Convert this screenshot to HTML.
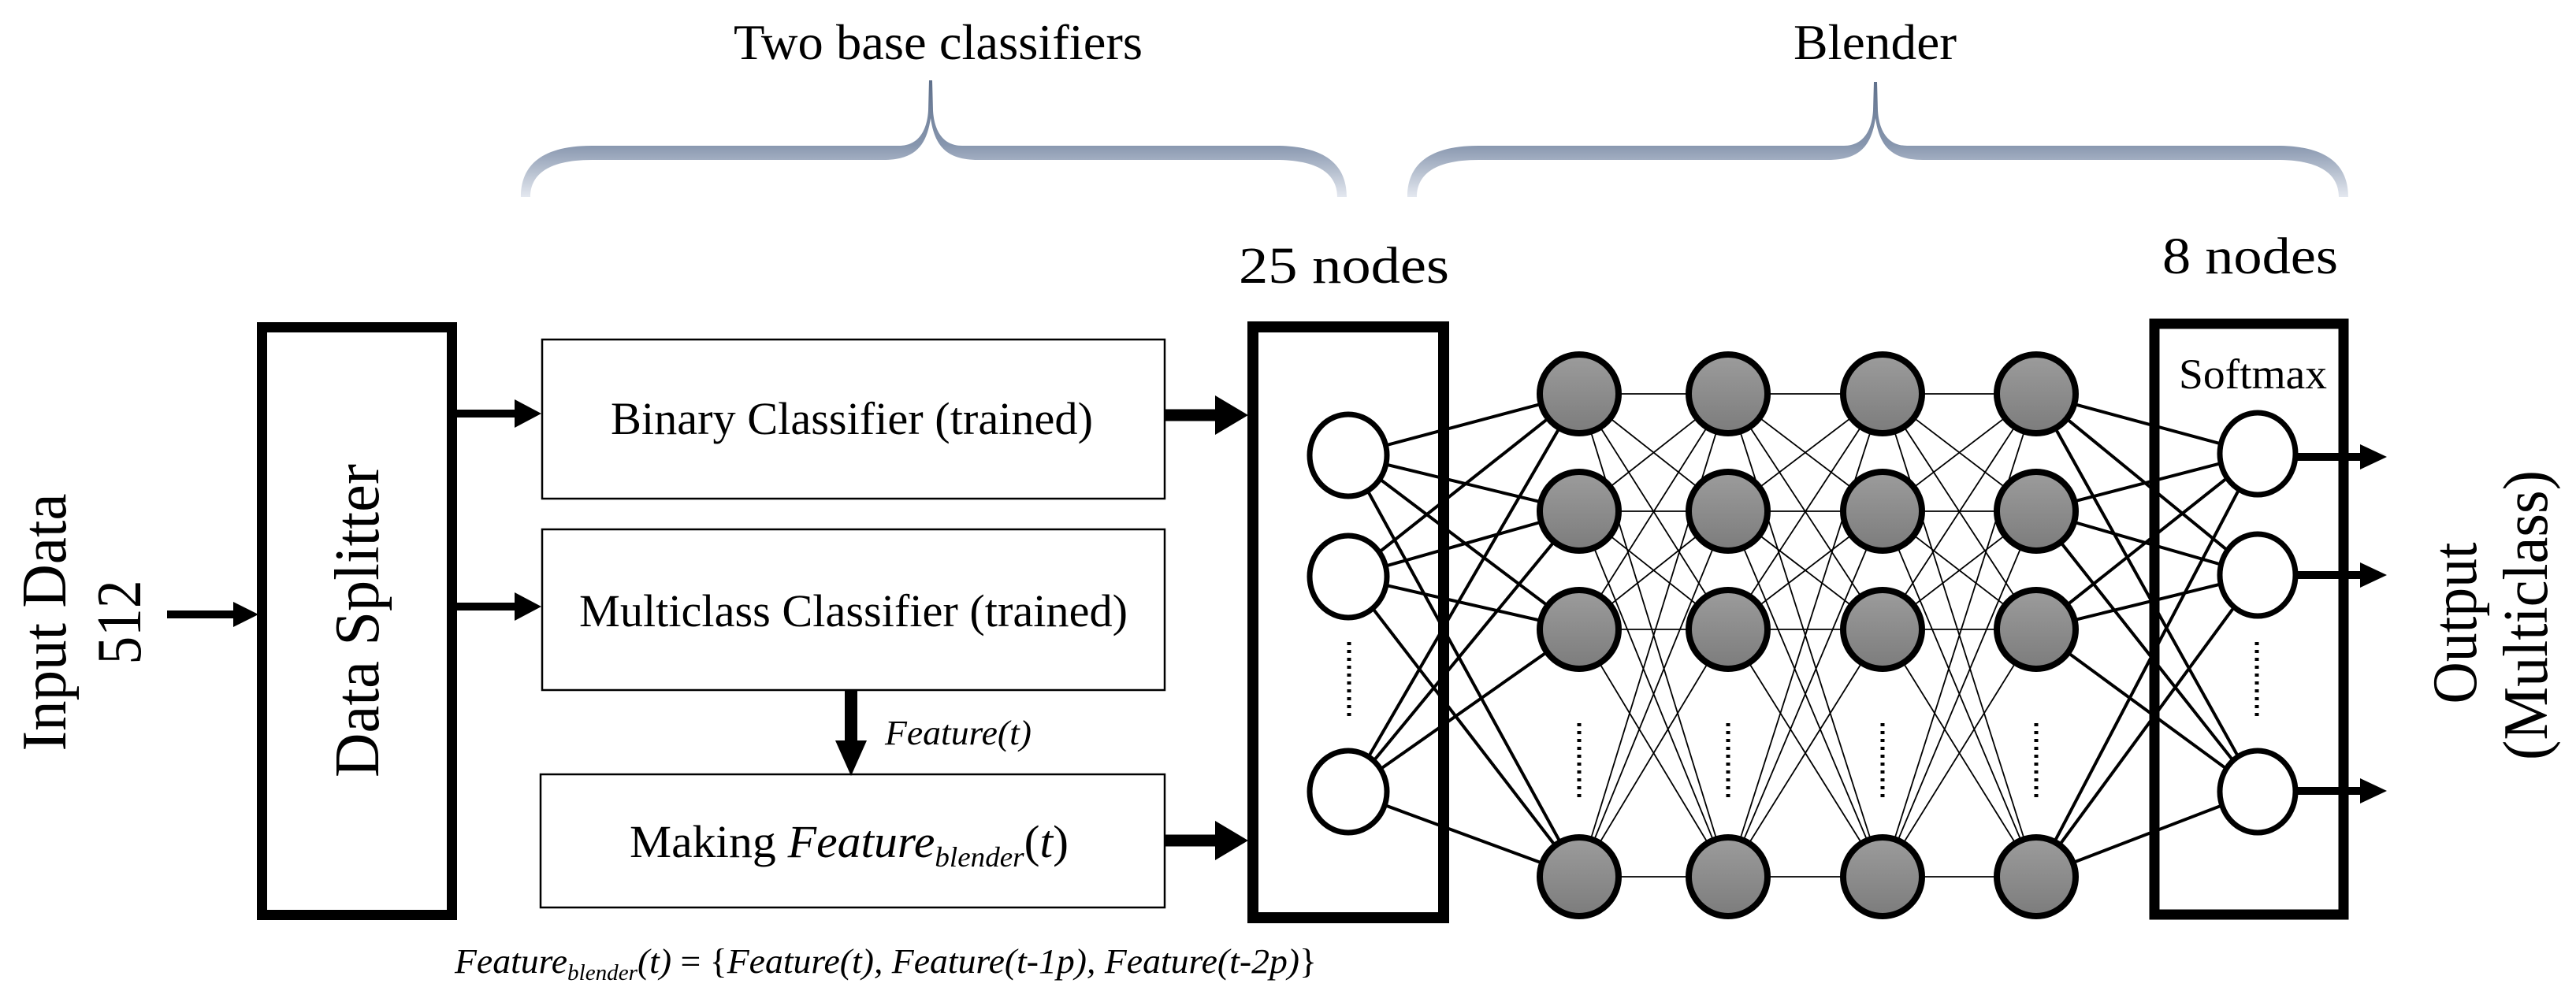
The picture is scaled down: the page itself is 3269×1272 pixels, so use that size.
<!DOCTYPE html>
<html><head><meta charset="utf-8"><style>
html,body{margin:0;padding:0;background:#fff;}
svg{display:block;}
svg text{font-family:"Liberation Serif","Times New Roman","DejaVu Serif",serif;fill:#000;}
</style></head><body>
<svg width="3269" height="1272" viewBox="0 0 3269 1272" xmlns="http://www.w3.org/2000/svg" font-family="'Liberation Serif','Times New Roman','DejaVu Serif',serif">
<defs>
<linearGradient id="br" x1="0" y1="100" x2="0" y2="252" gradientUnits="userSpaceOnUse">
<stop offset="0" stop-color="#5e6f8a"/><stop offset="0.55" stop-color="#8796ae"/><stop offset="1" stop-color="#e6eaf1"/></linearGradient>
<linearGradient id="gn" x1="0" y1="0" x2="0" y2="1">
<stop offset="0" stop-color="#9c9c9c"/><stop offset="1" stop-color="#7c7c7c"/></linearGradient>
</defs>

<!-- braces -->
<path fill="url(#br)" d="M661,250 C661,215 681,185 751,185 H1141 C1169,185 1177,160 1178,140 L1179,102 L1183,102 L1184,140 C1185,160 1193,185 1221,185 H1619 C1689,185 1709,215 1709,250 L1697,250 C1697,225 1679,203 1619,203 H1241 C1201,203 1186,185 1181,150 C1176,185 1161,203 1121,203 H751 C691,203 673,225 673,250 Z"/>
<path fill="url(#br)" d="M1786,250 C1786,215 1806,185 1876,185 H2340 C2368,185 2376,160 2377,140 L2378,104 L2382,104 L2383,140 C2384,160 2392,185 2420,185 H2890 C2960,185 2980,215 2980,250 L2968,250 C2968,225 2950,203 2890,203 H2440 C2400,203 2385,185 2380,150 C2375,185 2360,203 2320,203 H1876 C1816,203 1798,225 1798,250 Z"/>

<text x="931" y="75" font-size="64" textLength="519" lengthAdjust="spacingAndGlyphs">Two base classifiers</text>
<text x="2276" y="75" font-size="64" textLength="207" lengthAdjust="spacingAndGlyphs">Blender</text>
<text x="1572" y="359" font-size="66" textLength="267" lengthAdjust="spacingAndGlyphs">25 nodes</text>
<text x="2744" y="347" font-size="66" textLength="223" lengthAdjust="spacingAndGlyphs">8 nodes</text>

<!-- left rotated labels -->
<text transform="translate(83,790) rotate(-90)" text-anchor="middle" font-size="80" textLength="327" lengthAdjust="spacingAndGlyphs">Input Data</text>
<text transform="translate(178,790) rotate(-90)" text-anchor="middle" font-size="80" textLength="107" lengthAdjust="spacingAndGlyphs">512</text>
<text transform="translate(480,788) rotate(-90)" text-anchor="middle" font-size="80" textLength="398" lengthAdjust="spacingAndGlyphs">Data Splitter</text>

<!-- input arrow -->
<line x1="212" y1="780" x2="300" y2="780" stroke="#000" stroke-width="10"/>
<polygon points="296,764 328,780 296,796" fill="#000"/>

<!-- data splitter -->
<rect x="332.5" y="415.5" width="241" height="746" fill="none" stroke="#000" stroke-width="13"/>

<!-- splitter arrows -->
<line x1="580" y1="525" x2="656" y2="525" stroke="#000" stroke-width="10"/>
<polygon points="653,507 687,525 653,543" fill="#000"/>
<line x1="580" y1="770" x2="656" y2="770" stroke="#000" stroke-width="10"/>
<polygon points="653,752 687,770 653,788" fill="#000"/>

<!-- classifier boxes -->
<rect x="688" y="431" width="790" height="202" fill="none" stroke="#000" stroke-width="2.5"/>
<rect x="688" y="672" width="790" height="204" fill="none" stroke="#000" stroke-width="2.5"/>
<rect x="686" y="983" width="792" height="169" fill="none" stroke="#000" stroke-width="2.5"/>
<text x="775" y="551" font-size="58" textLength="612" lengthAdjust="spacingAndGlyphs">Binary Classifier (trained)</text>
<text x="735" y="795" font-size="58" textLength="696" lengthAdjust="spacingAndGlyphs">Multiclass Classifier (trained)</text>
<text x="799" y="1088" font-size="58" textLength="557" lengthAdjust="spacingAndGlyphs">Making <tspan font-style="italic">Feature</tspan><tspan font-style="italic" font-size="36" dy="12">blender</tspan><tspan dy="-12">(</tspan><tspan font-style="italic">t</tspan>)</text>

<!-- feature arrow -->
<line x1="1080" y1="876" x2="1080" y2="945" stroke="#000" stroke-width="16"/>
<polygon points="1060,940 1100,940 1080,985" fill="#000"/>
<text x="1123" y="945" font-size="44" font-style="italic" textLength="186" lengthAdjust="spacingAndGlyphs">Feature(t)</text>

<!-- formula -->
<text x="577" y="1235" font-size="44" font-style="italic" textLength="1094" lengthAdjust="spacingAndGlyphs">Feature<tspan font-size="28" dy="9">blender</tspan><tspan dy="-9">(t) </tspan><tspan font-style="normal">= {</tspan>Feature(t), Feature(t-1p), Feature(t-2p)<tspan font-style="normal">}</tspan></text>

<!-- thick arrows into 25 box -->
<line x1="1478" y1="527" x2="1545" y2="527" stroke="#000" stroke-width="15"/>
<polygon points="1542,502 1584,527 1542,552" fill="#000"/>
<line x1="1478" y1="1067" x2="1545" y2="1067" stroke="#000" stroke-width="15"/>
<polygon points="1542,1042 1584,1067 1542,1092" fill="#000"/>

<!-- connections -->
<g stroke="#000" stroke-width="4">
<line x1="1711" y1="578" x2="2004" y2="500"/><line x1="1711" y1="578" x2="2004" y2="649"/><line x1="1711" y1="578" x2="2004" y2="799"/><line x1="1711" y1="578" x2="2004" y2="1113"/>
<line x1="1711" y1="732" x2="2004" y2="500"/><line x1="1711" y1="732" x2="2004" y2="649"/><line x1="1711" y1="732" x2="2004" y2="799"/><line x1="1711" y1="732" x2="2004" y2="1113"/>
<line x1="1711" y1="1005" x2="2004" y2="500"/><line x1="1711" y1="1005" x2="2004" y2="649"/><line x1="1711" y1="1005" x2="2004" y2="799"/><line x1="1711" y1="1005" x2="2004" y2="1113"/>
<line x1="2584" y1="500" x2="2865" y2="576"/><line x1="2584" y1="500" x2="2865" y2="730"/><line x1="2584" y1="500" x2="2865" y2="1005"/>
<line x1="2584" y1="649" x2="2865" y2="576"/><line x1="2584" y1="649" x2="2865" y2="730"/><line x1="2584" y1="649" x2="2865" y2="1005"/>
<line x1="2584" y1="799" x2="2865" y2="576"/><line x1="2584" y1="799" x2="2865" y2="730"/><line x1="2584" y1="799" x2="2865" y2="1005"/>
<line x1="2584" y1="1113" x2="2865" y2="576"/><line x1="2584" y1="1113" x2="2865" y2="730"/><line x1="2584" y1="1113" x2="2865" y2="1005"/>
</g>
<g stroke="#000" stroke-width="1.8">
<path d="M2004,500 L2193,500 M2004,500 L2193,649 M2004,500 L2193,799 M2004,500 L2193,1113
M2004,649 L2193,500 M2004,649 L2193,649 M2004,649 L2193,799 M2004,649 L2193,1113
M2004,799 L2193,500 M2004,799 L2193,649 M2004,799 L2193,799 M2004,799 L2193,1113
M2004,1113 L2193,500 M2004,1113 L2193,649 M2004,1113 L2193,799 M2004,1113 L2193,1113
M2193,500 L2389,500 M2193,500 L2389,649 M2193,500 L2389,799 M2193,500 L2389,1113
M2193,649 L2389,500 M2193,649 L2389,649 M2193,649 L2389,799 M2193,649 L2389,1113
M2193,799 L2389,500 M2193,799 L2389,649 M2193,799 L2389,799 M2193,799 L2389,1113
M2193,1113 L2389,500 M2193,1113 L2389,649 M2193,1113 L2389,799 M2193,1113 L2389,1113
M2389,500 L2584,500 M2389,500 L2584,649 M2389,500 L2584,799 M2389,500 L2584,1113
M2389,649 L2584,500 M2389,649 L2584,649 M2389,649 L2584,799 M2389,649 L2584,1113
M2389,799 L2584,500 M2389,799 L2584,649 M2389,799 L2584,799 M2389,799 L2584,1113
M2389,1113 L2584,500 M2389,1113 L2584,649 M2389,1113 L2584,799 M2389,1113 L2584,1113"/>
</g>

<!-- 25 nodes box -->
<rect x="1590" y="415" width="242" height="750" fill="none" stroke="#000" stroke-width="14"/>
<g fill="#fff" stroke="#000" stroke-width="7">
<ellipse cx="1711" cy="578" rx="49" ry="52"/>
<ellipse cx="1711" cy="732" rx="49" ry="52"/>
<ellipse cx="1711" cy="1005" rx="49" ry="52"/>
</g>
<line x1="1712" y1="815" x2="1712" y2="910" stroke="#000" stroke-width="5" stroke-dasharray="4,6"/>

<!-- gray nodes -->
<g fill="url(#gn)" stroke="#000" stroke-width="8">
<circle cx="2004" cy="500" r="50"/><circle cx="2004" cy="649" r="50"/><circle cx="2004" cy="799" r="50"/><circle cx="2004" cy="1113" r="50"/>
<circle cx="2193" cy="500" r="50"/><circle cx="2193" cy="649" r="50"/><circle cx="2193" cy="799" r="50"/><circle cx="2193" cy="1113" r="50"/>
<circle cx="2389" cy="500" r="50"/><circle cx="2389" cy="649" r="50"/><circle cx="2389" cy="799" r="50"/><circle cx="2389" cy="1113" r="50"/>
<circle cx="2584" cy="500" r="50"/><circle cx="2584" cy="649" r="50"/><circle cx="2584" cy="799" r="50"/><circle cx="2584" cy="1113" r="50"/>
</g>
<g stroke="#000" stroke-width="5" stroke-dasharray="4,6">
<line x1="2004" y1="918" x2="2004" y2="1014"/><line x1="2193" y1="918" x2="2193" y2="1014"/><line x1="2389" y1="918" x2="2389" y2="1014"/><line x1="2584" y1="918" x2="2584" y2="1014"/>
</g>

<!-- 8 nodes box -->
<rect x="2734" y="411" width="240" height="750" fill="none" stroke="#000" stroke-width="13"/>
<text x="2765" y="493" font-size="54" textLength="188" lengthAdjust="spacingAndGlyphs">Softmax</text>
<g stroke="#000" stroke-width="10">
<line x1="2900" y1="580" x2="3000" y2="580"/><line x1="2900" y1="730" x2="3000" y2="730"/><line x1="2900" y1="1004" x2="3000" y2="1004"/>
</g>
<polygon points="2995,564 3029,580 2995,596" fill="#000"/>
<polygon points="2995,714 3029,730 2995,746" fill="#000"/>
<polygon points="2995,988 3029,1004 2995,1020" fill="#000"/>
<g fill="#fff" stroke="#000" stroke-width="7">
<ellipse cx="2865" cy="576" rx="48" ry="52"/>
<ellipse cx="2865" cy="730" rx="48" ry="52"/>
<ellipse cx="2865" cy="1005" rx="48" ry="52"/>
</g>
<line x1="2864" y1="815" x2="2864" y2="910" stroke="#000" stroke-width="5" stroke-dasharray="4,6"/>

<text transform="translate(3142,791) rotate(-90)" text-anchor="middle" font-size="80" textLength="205" lengthAdjust="spacingAndGlyphs">Output</text>
<text transform="translate(3232,781) rotate(-90)" text-anchor="middle" font-size="80" textLength="368" lengthAdjust="spacingAndGlyphs">(Multiclass)</text>
</svg>
</body></html>
